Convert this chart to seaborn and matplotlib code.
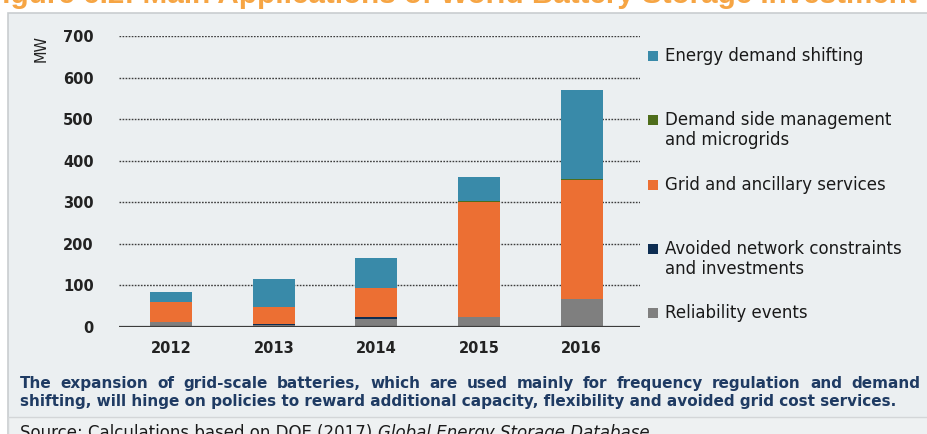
import numpy as np
import pandas as pd
import matplotlib
matplotlib.use("Agg")
import matplotlib.pyplot as plt
from matplotlib.patches import Rectangle
import seaborn as sns

# data (MW)
years = ["2012", "2013", "2014", "2015", "2016"]
reliability = [11, 6, 19, 24, 67]
avoided_network = [1, 1, 4, 1, 0]
grid_ancillary = [47, 41, 71, 276, 286]
demand_side = [0, 0, 1, 3, 3]
energy_shifting = [25, 67, 70, 57, 215]

series_names = [
    "Reliability events",
    "Avoided network constraints\nand investments",
    "Grid and ancillary services",
    "Demand side management\nand microgrids",
    "Energy demand shifting",
]
series_colors = ["#7f7f7f", "#0d2d52", "#ec6f33", "#4e6d1b", "#398aa9"]

W, H = 927, 434
sns.set_style("white")
plt.rcParams["font.family"] = ["DejaVu Sans"]

fig = plt.figure(figsize=(W / 100, H / 100), dpi=100, facecolor="white")

# grey panel behind the chart, lighter strip for the source line
fig.patches.append(Rectangle((8 / W, -0.05), 1, 1.05 - 13 / H, transform=fig.transFigure,
                             facecolor="#ebeff1", edgecolor="#c9cdd0", lw=1.2, zorder=-5))
fig.patches.append(Rectangle((8 / W, -0.05), 1, 0.05 + 1 - 417 / H, transform=fig.transFigure,
                             facecolor="#eef1f2", edgecolor="#d3d6d8", lw=1.0, zorder=-4))

# cropped figure title at the very top
fig.text(-16 / W, 1 - 3 / H, "Figure 6.2: Main Applications of World Battery Storage Investment",
         family=["Liberation Sans", "DejaVu Sans"], fontweight="bold", fontsize=21.3,
         color="#f6a544", va="baseline", ha="left")

ax = fig.add_axes([119 / W, 1 - 327 / H, (640 - 119) / W, (327 - 36) / H])
ax.set_facecolor("none")

stack = np.vstack([reliability, avoided_network, grid_ancillary, demand_side, energy_shifting])
tops = np.cumsum(stack, axis=0)

# stacked bars: draw the cumulative totals from the top series down
for i in range(len(series_names) - 1, -1, -1):
    df = pd.DataFrame({"year": years, "mw": tops[i]})
    sns.barplot(data=df, x="year", y="mw", color=series_colors[i], saturation=1,
                width=0.41, ax=ax, zorder=3, linewidth=0, edgecolor="none")

ax.set_xlim(-0.51, 4.57)
ax.set_ylim(0, 700)
ax.set_yticks(range(0, 701, 100))
ax.set_xlabel("")
ax.set_ylabel("")
for y in range(100, 701, 100):
    ax.axhline(y, color="#3c3c3c", lw=1.0, ls=(0, (1.2, 1.0)), zorder=1)
ax.axhline(0, color="#3c3c3c", lw=1.6, zorder=4)
for s in ax.spines.values():
    s.set_visible(False)
ax.tick_params(axis="both", length=0, labelsize=10.5, colors="#222222")
ax.tick_params(axis="y", pad=18)
ax.tick_params(axis="x", pad=10)
for lab in ax.get_xticklabels() + ax.get_yticklabels():
    lab.set_fontweight("bold")

fig.text(41 / W, 1 - 48 / H, "MW", rotation=90, fontsize=10.5, color="#222222",
         ha="center", va="center")

# legend, squares evenly spaced, first text line next to the square
leg_order = [4, 3, 2, 1, 0]
for k, i in enumerate(leg_order):
    yc = 56 + k * 64.3
    fig.patches.append(Rectangle((648 / W, 1 - (yc + 5) / H), 10 / W, 10 / H,
                                 transform=fig.transFigure, facecolor=series_colors[i],
                                 edgecolor="none"))
    fig.text(665 / W, 1 - (yc - 9) / H, series_names[i], fontsize=12, color="#1a1a1a",
             va="top", ha="left", linespacing=1.15)

# caption, justified like the original
cap_lines = [
    "The expansion of grid-scale batteries, which are used mainly for frequency regulation and demand",
    "shifting, will hinge on policies to reward additional capacity, flexibility and avoided grid cost services.",
]
cap_kw = dict(fontsize=11, fontweight="bold", color="#1f3b63", va="baseline")
renderer = fig.canvas.get_renderer()


def justified(line, y_px, x0, x1):
    words = line.split(" ")
    arts = [fig.text(0, 1 - y_px / H, w, **cap_kw) for w in words]
    widths = [a.get_window_extent(renderer).width for a in arts]
    gap = (x1 - x0 - sum(widths)) / (len(words) - 1)
    x = x0
    for a, w in zip(arts, widths):
        a.set_x(x / W)
        x += w + gap


justified(cap_lines[0], 388, 20, 920)
fig.text(20 / W, 1 - 406 / H, cap_lines[1], **cap_kw)

src = fig.text(20 / W, 1 - 438 / H, "Source: Calculations based on DOE (2017) ",
               fontsize=12, color="#1a1a1a", va="baseline")
x_it = 20 + src.get_window_extent(renderer).width
it = fig.text(x_it / W, 1 - 438 / H, "Global Energy Storage Database",
              fontsize=12, style="italic", color="#1a1a1a", va="baseline")
x_dot = x_it + it.get_window_extent(renderer).width
fig.text(x_dot / W, 1 - 438 / H, ".", fontsize=12, color="#1a1a1a", va="baseline")

fig.savefig("out.png", dpi=100, facecolor="white")
